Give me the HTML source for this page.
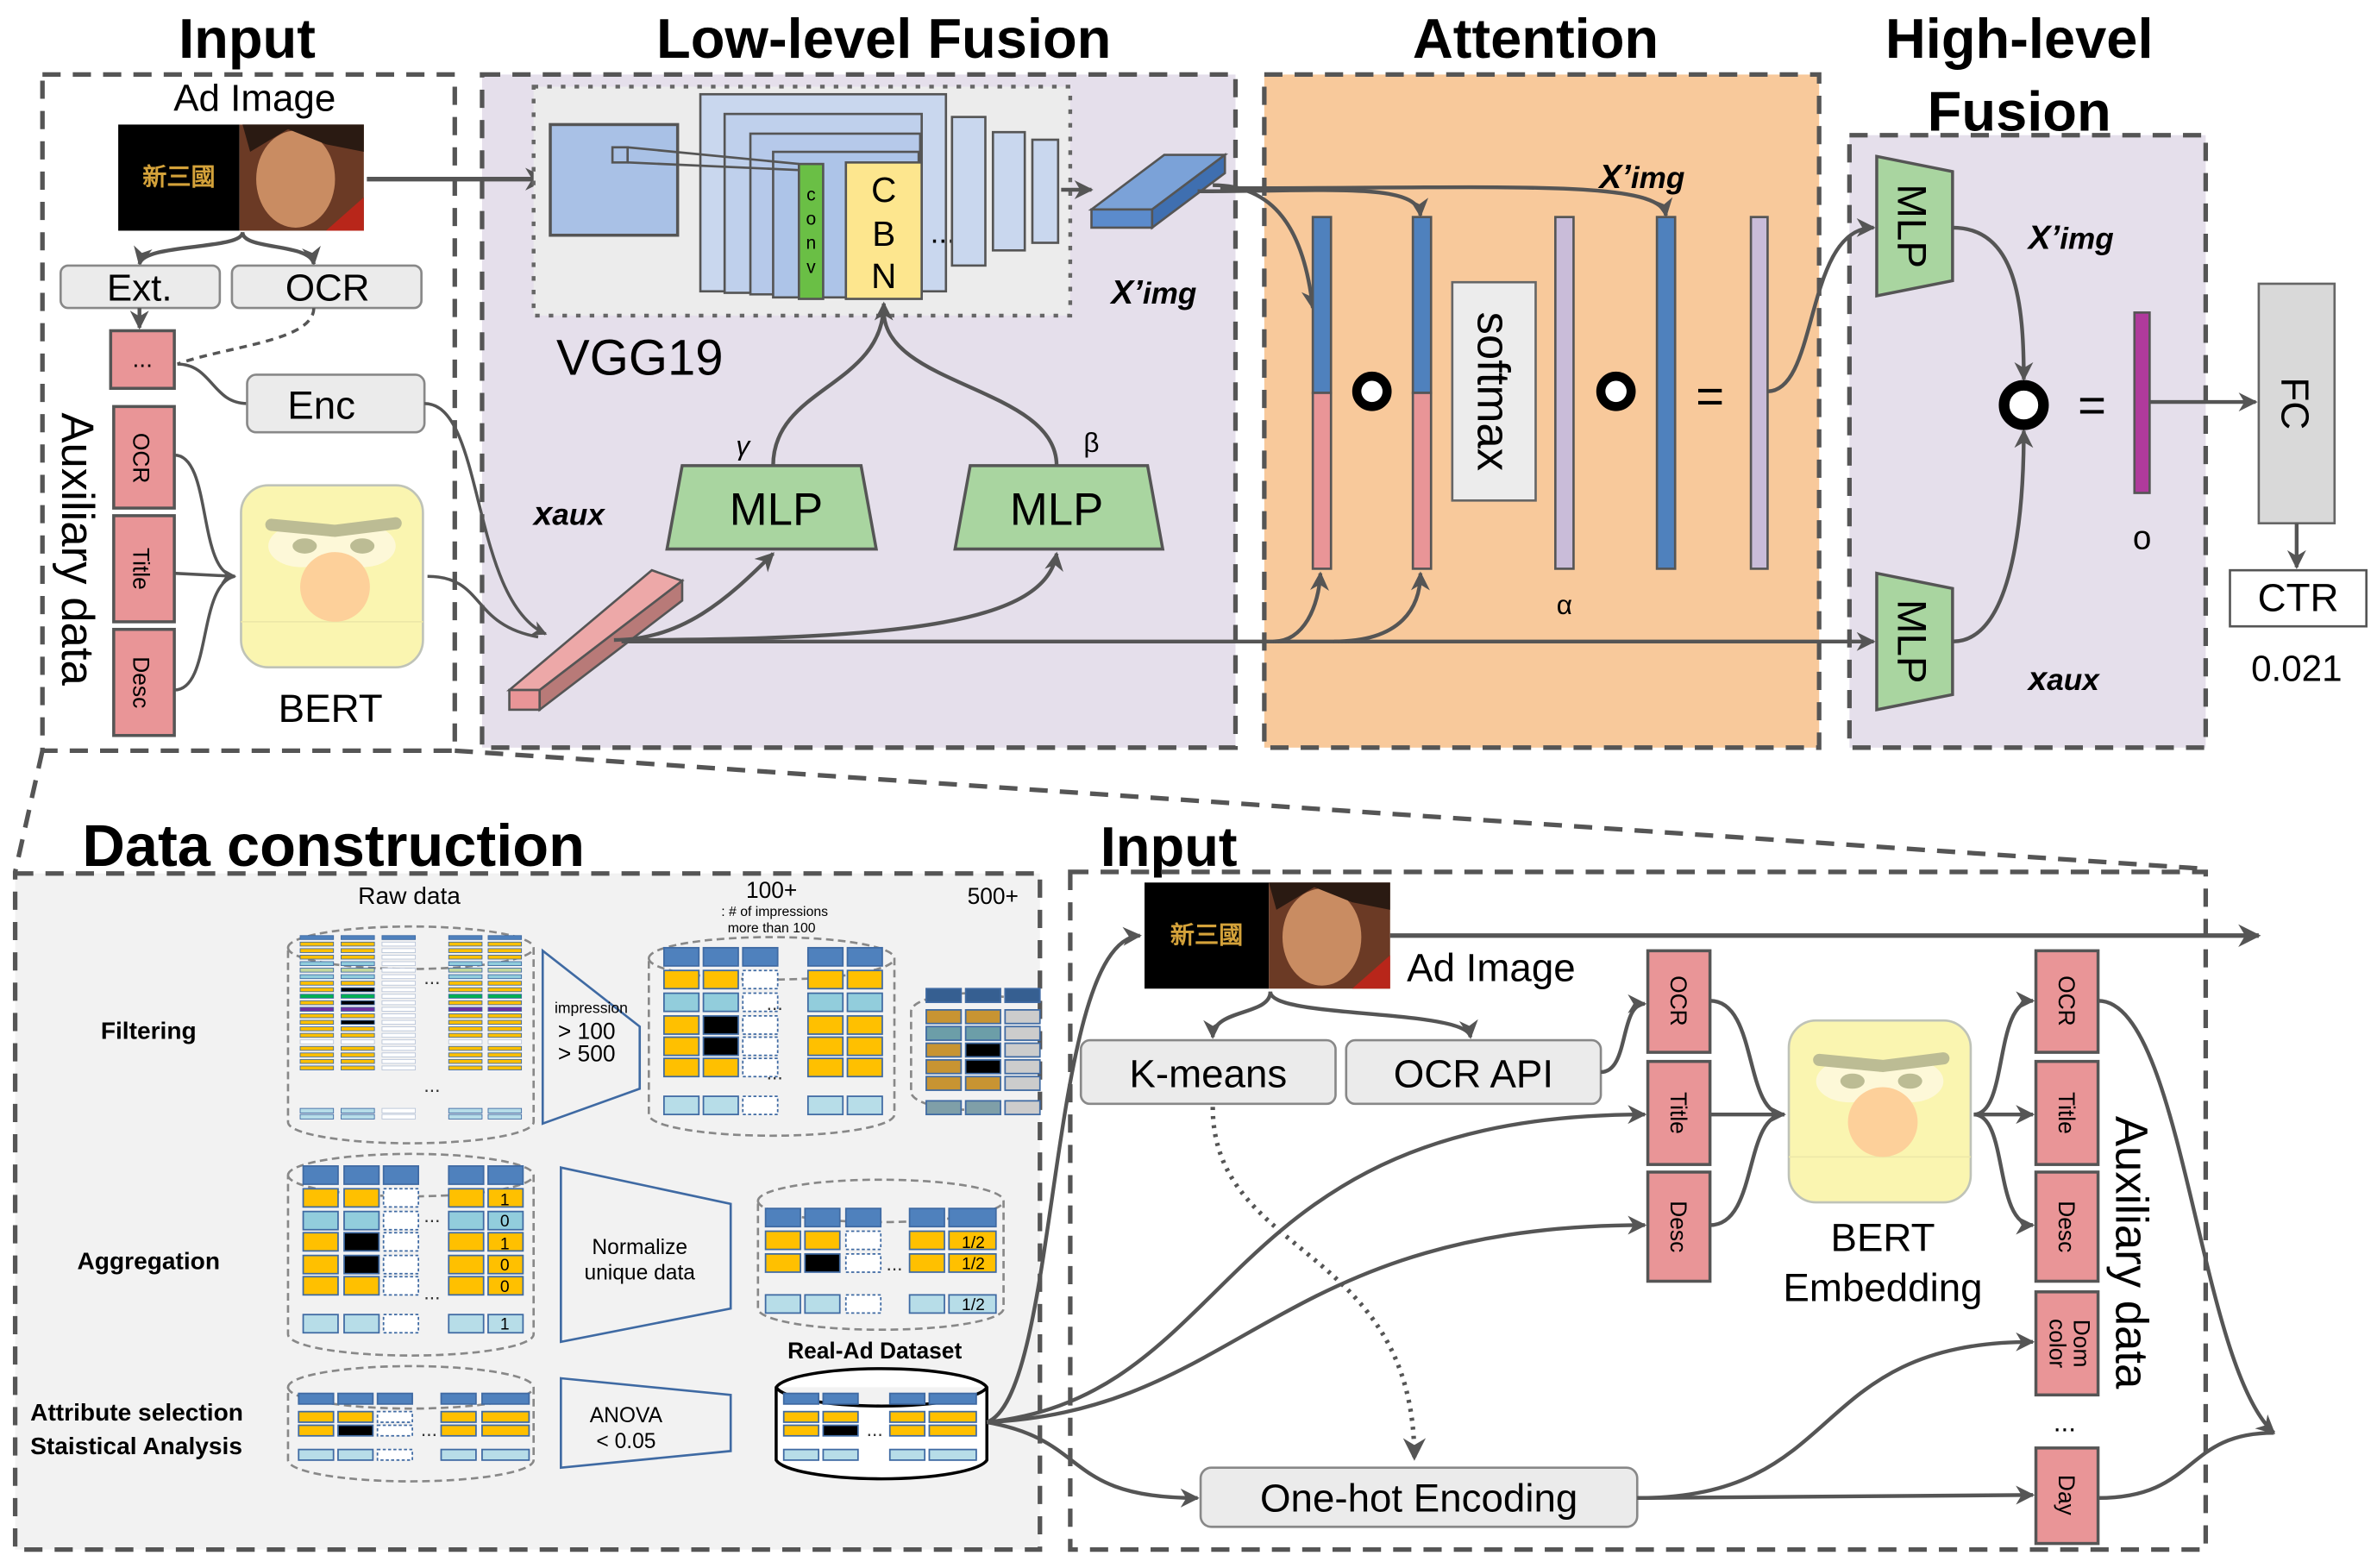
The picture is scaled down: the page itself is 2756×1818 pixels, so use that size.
<!DOCTYPE html>
<html><head><meta charset="utf-8">
<style>
html,body{margin:0;padding:0;background:#fff;}
svg{display:block;}
text{font-family:"Liberation Sans",Arial,sans-serif;}
</style></head>
<body>
<svg id="s" width="2756" height="1818" viewBox="0 0 1568 1034" xmlns="http://www.w3.org/2000/svg">
<defs>
<marker id="a" viewBox="0 0 10 10" refX="9" refY="5" markerWidth="5" markerHeight="5" orient="auto-start-reverse"><path d="M0,0 L10,5 L0,10 L3,5 z" fill="#555"/></marker>
<g id="face">
<rect x="0" y="0" width="120" height="120" rx="18" fill="#faf5b0" stroke="#bfc3b8" stroke-width="1.5"/>
<line x1="0" y1="90" x2="120" y2="90" stroke="#ede8a8" stroke-width="1"/>
<ellipse cx="40" cy="40" rx="22" ry="14" fill="#fdf8d8"/>
<ellipse cx="80" cy="40" rx="22" ry="14" fill="#fdf8d8"/>
<ellipse cx="42" cy="40" rx="8" ry="5" fill="#bcbc94"/>
<ellipse cx="80" cy="40" rx="8" ry="5" fill="#bcbc94"/>
<path d="M20,26 L62,30 L102,25" stroke="#bcbc94" stroke-width="8" stroke-linecap="round" fill="none"/>
<circle cx="62" cy="67" r="23" fill="#fdd09a"/>
</g>
</defs>

<!-- Titles -->
<g font-weight="bold" font-size="37" text-anchor="middle" fill="#000">
<text x="163" y="38">Input</text>
<text x="583" y="38">Low-level Fusion</text>
<text x="1013" y="38">Attention</text>
<text x="1332" y="38">High-level</text>
<text x="1332" y="86">Fusion</text>
<text x="220" y="571" font-size="39">Data construction</text>
<text x="771" y="571">Input</text>
</g>

<rect x="318" y="49" width="497" height="444" fill="#e5dfeb" stroke="#555" stroke-width="3" stroke-dasharray="12,8"/>
<rect x="834" y="49" width="366" height="444" fill="#f8c99b" stroke="#555" stroke-width="3" stroke-dasharray="12,8"/>
<rect x="1220" y="89" width="235" height="404" fill="#e5dfeb" stroke="#555" stroke-width="3" stroke-dasharray="12,8"/>
<rect x="28" y="49" width="272" height="446" fill="none" stroke="#555" stroke-width="3" stroke-dasharray="12,8"/>
<line x1="28" y1="495" x2="10" y2="575" stroke="#555" stroke-width="3" stroke-dasharray="12,8"/>
<line x1="300" y1="495" x2="1455" y2="573" stroke="#555" stroke-width="3" stroke-dasharray="12,8"/>
<rect x="10" y="576" width="676" height="446" fill="#f2f2f2" stroke="#555" stroke-width="3" stroke-dasharray="12,8"/>
<rect x="706" y="575" width="749" height="447" fill="none" stroke="#555" stroke-width="3" stroke-dasharray="12,8"/>

<!-- ===== Input top ===== -->
<text x="168" y="73" font-size="25" text-anchor="middle">Ad Image</text>
<rect x="78" y="82" width="80" height="70" fill="#000"/>
<text x="118" y="122" font-size="16" fill="#d4a23a" text-anchor="middle" font-weight="bold">新三國</text>
<rect x="158" y="82" width="82" height="70" fill="#6b3a25"/>
<ellipse cx="195" cy="118" rx="26" ry="32" fill="#c98c62"/>
<path d="M160,82 L240,82 L240,100 L215,95 L190,85 L165,100z" fill="#2a1a12"/>
<path d="M215,152 L240,130 L240,152z" fill="#b8261a"/>
<path d="M242,118 L360,118" stroke="#555" stroke-width="3" fill="none" marker-end="url(#a)"/>
<path d="M160,153 C160,165 95,160 92,174" stroke="#555" stroke-width="2.5" fill="none" marker-end="url(#a)"/>
<path d="M160,153 C160,165 205,160 207,174" stroke="#555" stroke-width="2.5" fill="none" marker-end="url(#a)"/>
<rect x="40" y="175" width="105" height="28" rx="5" fill="#ebebeb" stroke="#888" stroke-width="1.5"/>
<text x="92" y="198" font-size="25" text-anchor="middle">Ext.</text>
<rect x="153" y="175" width="125" height="28" rx="5" fill="#ebebeb" stroke="#888" stroke-width="1.5"/>
<text x="216" y="198" font-size="25" text-anchor="middle">OCR</text>
<path d="M92,203 L92,216" stroke="#555" stroke-width="2.5" marker-end="url(#a)"/>
<path d="M207,203 C207,225 150,228 117,240" stroke="#555" stroke-width="2" fill="none" stroke-dasharray="5,4"/>
<rect x="73" y="218" width="42" height="38" fill="#e99597" stroke="#555" stroke-width="2"/>
<text x="94" y="242" font-size="16" text-anchor="middle">...</text>
<path d="M117,240 C140,240 140,266 163,266" stroke="#555" stroke-width="2" fill="none"/>
<rect x="163" y="247" width="117" height="38" rx="6" fill="#ebebeb" stroke="#888" stroke-width="1.5"/>
<text x="212" y="276" font-size="26" text-anchor="middle">Enc</text>
<rect x="75" y="268" width="40" height="67" fill="#e99597" stroke="#555" stroke-width="2"/>
<rect x="75" y="340" width="40" height="70" fill="#e99597" stroke="#555" stroke-width="2"/>
<rect x="75" y="415" width="40" height="70" fill="#e99597" stroke="#555" stroke-width="2"/>
<g font-size="15">
<text transform="translate(88,302) rotate(90)" text-anchor="middle">OCR</text>
<text transform="translate(88,375) rotate(90)" text-anchor="middle">Title</text>
<text transform="translate(88,450) rotate(90)" text-anchor="middle">Desc</text>
</g>
<text transform="translate(41,362) rotate(90)" font-size="30" text-anchor="middle">Auxiliary data</text>
<path d="M115,300 C140,300 130,378 155,380" stroke="#555" stroke-width="2" fill="none"/>
<path d="M115,378 L155,380" stroke="#555" stroke-width="2" fill="none" marker-end="url(#a)"/>
<path d="M115,455 C140,455 130,385 155,380" stroke="#555" stroke-width="2" fill="none"/>
<use href="#face" x="159" y="320"/>
<text x="218" y="476" font-size="26" text-anchor="middle">BERT</text>

<!-- ===== Low-level ===== -->
<rect x="352" y="57" width="354" height="151" fill="#ececec" stroke="#666" stroke-width="2.5" stroke-dasharray="3,6"/>
<text x="367" y="247" font-size="33">VGG19</text>
<rect x="363" y="82" width="84" height="73" fill="#a9c1e6" stroke="#555" stroke-width="2"/>
<rect x="462" y="62" width="162" height="130" fill="#c9d7ee" stroke="#555" stroke-width="1.5"/>
<rect x="478" y="75" width="130" height="118" fill="#bfd0ec" stroke="#555" stroke-width="1.5"/>
<rect x="495" y="88" width="112" height="106" fill="#b6c9ea" stroke="#555" stroke-width="1.5"/>
<rect x="510" y="100" width="96" height="96" fill="#adc4e8" stroke="#555" stroke-width="1.5"/>
<rect x="404" y="97" width="10" height="10" fill="none" stroke="#555" stroke-width="1.5"/>
<line x1="414" y1="97" x2="527" y2="108" stroke="#555" stroke-width="1.5"/>
<line x1="414" y1="107" x2="527" y2="112" stroke="#555" stroke-width="1.5"/>
<rect x="527" y="108" width="16" height="89" fill="#6abf45" stroke="#555" stroke-width="1.5"/>
<g font-size="12" text-anchor="middle"><text x="535" y="132">c</text><text x="535" y="148">o</text><text x="535" y="164">n</text><text x="535" y="180">v</text></g>
<rect x="558" y="107" width="50" height="90" fill="#fde68e" stroke="#555" stroke-width="1.5"/>
<g font-size="23" text-anchor="middle"><text x="583" y="133">C</text><text x="583" y="162">B</text><text x="583" y="190">N</text></g>
<text x="622" y="160" font-size="20" text-anchor="middle">...</text>
<rect x="628" y="77" width="22" height="98" fill="#c9d7ee" stroke="#555" stroke-width="1.5"/>
<rect x="655" y="87" width="21" height="78" fill="#c9d7ee" stroke="#555" stroke-width="1.5"/>
<rect x="681" y="92" width="17" height="68" fill="#c9d7ee" stroke="#555" stroke-width="1.5"/>
<path d="M700,125 L720,125" stroke="#555" stroke-width="2.5" marker-end="url(#a)"/>
<polygon points="720,138 760,138 808,102 768,102" fill="#7ba2d8" stroke="#555" stroke-width="1.5"/>
<rect x="720" y="138" width="40" height="12" fill="#5b8bcc" stroke="#555" stroke-width="1.5"/>
<polygon points="760,138 760,150 808,114 808,102" fill="#3f6fb0" stroke="#555" stroke-width="1.5"/>
<text x="733" y="200" font-size="22" font-weight="bold" font-style="italic">X’<tspan font-size="20">img</tspan></text>
<polygon points="450,307 568,307 578,362 440,362" fill="#a9d5a0" stroke="#555" stroke-width="2"/>
<text x="512" y="346" font-size="30" text-anchor="middle">MLP</text>
<polygon points="640,307 757,307 767,362 630,362" fill="#a9d5a0" stroke="#555" stroke-width="2"/>
<text x="697" y="346" font-size="30" text-anchor="middle">MLP</text>
<text x="490" y="300" font-size="18" text-anchor="middle" font-style="italic">γ</text>
<text x="720" y="298" font-size="18" text-anchor="middle">β</text>
<path d="M510,307 C510,255 583,255 583,200" stroke="#555" stroke-width="2.5" fill="none" marker-end="url(#a)"/>
<path d="M697,307 C697,255 583,255 583,205" stroke="#555" stroke-width="2.5" fill="none"/>
<text x="352" y="346" font-size="22" font-weight="bold" font-style="italic">x<tspan font-size="20">aux</tspan></text>
<path d="M280,266 C320,266 310,395 360,418" stroke="#555" stroke-width="2" fill="none" marker-end="url(#a)"/>
<path d="M282,380 C320,380 310,412 355,420" stroke="#555" stroke-width="2" fill="none"/>
<polygon points="336,455 356,455 450,383 430,376" fill="#eda8a8" stroke="#555" stroke-width="1.5"/>
<rect x="336" y="455" width="20" height="13" fill="#e99597" stroke="#555" stroke-width="1.5"/>
<polygon points="356,455 356,468 450,396 450,383" fill="#b87a78" stroke="#555" stroke-width="1.5"/>
<path d="M405,422 C450,422 480,395 510,365" stroke="#555" stroke-width="2.5" fill="none" marker-end="url(#a)"/>
<path d="M410,422 C600,422 690,410 697,365" stroke="#555" stroke-width="2.5" fill="none" marker-end="url(#a)"/>
<path d="M410,423 L1236,423" stroke="#555" stroke-width="2.5" fill="none" marker-end="url(#a)"/>
<path d="M840,423 C860,423 870,400 871,378" stroke="#555" stroke-width="2.5" fill="none" marker-end="url(#a)"/>
<path d="M880,423 C925,423 937,400 937,378" stroke="#555" stroke-width="2.5" fill="none" marker-end="url(#a)"/>

<!-- ===== Attention ===== -->
<path d="M800,122 C840,122 860,150 866,203" stroke="#555" stroke-width="2.5" fill="none" marker-end="url(#a)"/>
<path d="M790,126 C880,126 935,120 937,142" stroke="#555" stroke-width="2.5" fill="none" marker-end="url(#a)"/>
<path d="M805,124 C1000,124 1095,118 1099,142" stroke="#555" stroke-width="2.5" fill="none" marker-end="url(#a)"/>
<text x="1055" y="124" font-size="22" font-weight="bold" font-style="italic">X’<tspan font-size="20">img</tspan></text>
<rect x="866" y="143" width="12" height="116" fill="#4f81bd" stroke="#555" stroke-width="1.5"/>
<rect x="866" y="259" width="12" height="116" fill="#e99597" stroke="#555" stroke-width="1.5"/>
<rect x="932" y="143" width="12" height="116" fill="#4f81bd" stroke="#555" stroke-width="1.5"/>
<rect x="932" y="259" width="12" height="116" fill="#e99597" stroke="#555" stroke-width="1.5"/>
<circle cx="905" cy="258" r="10" fill="#fff" stroke="#000" stroke-width="6"/>
<rect x="958" y="186" width="55" height="144" fill="#ececec" stroke="#666" stroke-width="1.5"/>
<text transform="translate(975,258) rotate(90)" font-size="30" text-anchor="middle">softmax</text>
<rect x="1026" y="143" width="12" height="232" fill="#c9bcd9" stroke="#555" stroke-width="1.5"/>
<text x="1032" y="405" font-size="18" text-anchor="middle">α</text>
<circle cx="1066" cy="258" r="10" fill="#fff" stroke="#000" stroke-width="6"/>
<text x="1128" y="272" font-size="32" text-anchor="middle">=</text>
<rect x="1093" y="143" width="12" height="232" fill="#4f81bd" stroke="#555" stroke-width="1.5"/>
<rect x="1155" y="143" width="11" height="232" fill="#c9bcd9" stroke="#555" stroke-width="1.5"/>
<path d="M1166,258 C1200,258 1190,150 1236,150" stroke="#555" stroke-width="2.5" fill="none" marker-end="url(#a)"/>

<!-- ===== High-level ===== -->
<polygon points="1238,103 1288,113 1288,185 1238,195" fill="#a9d5a0" stroke="#555" stroke-width="2"/>
<text transform="translate(1252,149) rotate(90)" font-size="27" text-anchor="middle">MLP</text>
<polygon points="1238,378 1288,388 1288,458 1238,468" fill="#a9d5a0" stroke="#555" stroke-width="2"/>
<text transform="translate(1252,423) rotate(90)" font-size="27" text-anchor="middle">MLP</text>
<text x="1338" y="164" font-size="22" font-weight="bold" font-style="italic">X’<tspan font-size="20">img</tspan></text>
<text x="1338" y="455" font-size="22" font-weight="bold" font-style="italic">x<tspan font-size="20">aux</tspan></text>
<path d="M1288,150 C1330,150 1335,200 1335,250" stroke="#555" stroke-width="2.5" fill="none" marker-end="url(#a)"/>
<path d="M1288,423 C1330,423 1335,330 1335,284" stroke="#555" stroke-width="2.5" fill="none" marker-end="url(#a)"/>
<circle cx="1335" cy="267" r="13" fill="#fff" stroke="#000" stroke-width="7"/>
<text x="1380" y="278" font-size="32" text-anchor="middle">=</text>
<rect x="1408" y="206" width="10" height="119" fill="#b03a9c" stroke="#555" stroke-width="1.5"/>
<text x="1413" y="362" font-size="22" text-anchor="middle">o</text>
<path d="M1418,265 L1488,265" stroke="#555" stroke-width="2.5" marker-end="url(#a)"/>
<rect x="1490" y="187" width="50" height="158" fill="#d9d9d9" stroke="#666" stroke-width="1.5"/>
<text transform="translate(1505,266) rotate(90)" font-size="26" text-anchor="middle">FC</text>
<path d="M1515,345 L1515,374" stroke="#555" stroke-width="2.5" marker-end="url(#a)"/>
<rect x="1471" y="376" width="90" height="37" fill="#fff" stroke="#555" stroke-width="1.5"/>
<text x="1516" y="403" font-size="26" text-anchor="middle">CTR</text>
<text x="1515" y="449" font-size="24" text-anchor="middle">0.021</text>

<!-- ===== Data construction ===== -->
<g font-weight="bold" font-size="16">
<text x="98" y="685" text-anchor="middle">Filtering</text>
<text x="98" y="837" text-anchor="middle">Aggregation</text>
<text x="20" y="937">Attribute selection</text>
<text x="20" y="959">Staistical Analysis</text>
</g>
<text x="270" y="596" font-size="16" text-anchor="middle">Raw data</text>
<text x="509" y="592" font-size="15" text-anchor="middle">100+</text>
<text x="511" y="604" font-size="9" text-anchor="middle">: # of impressions</text>
<text x="509" y="615" font-size="9" text-anchor="middle">more than 100</text>
<text x="655" y="596" font-size="15" text-anchor="middle">500+</text>
<g fill="none" stroke="#888" stroke-width="1.5" stroke-dasharray="5,3">
<path d="M190,625 A81,14 0 0 1 352,625 L352,740 A81,14 0 0 1 190,740 Z M190,625 A81,14 0 0 0 352,625"/>
<path d="M428,632 A81,14 0 0 1 590,632 L590,735 A81,14 0 0 1 428,735 Z M428,632 A81,14 0 0 0 590,632"/>
<path d="M686,660 L640,655 A40,12 0 0 0 601,667 L601,720 A40,12 0 0 0 640,732 L686,732"/>
<path d="M190,775 A81,14 0 0 1 352,775 L352,880 A81,14 0 0 1 190,880 Z M190,775 A81,14 0 0 0 352,775"/>
<path d="M500,792 A81,14 0 0 1 662,792 L662,863 A81,14 0 0 1 500,863 Z M500,792 A81,14 0 0 0 662,792"/>
<path d="M190,915 A81,14 0 0 1 352,915 L352,963 A81,14 0 0 1 190,963 Z M190,915 A81,14 0 0 0 352,915"/>
</g>
<path d="M512,915 A70,14 0 0 1 651,915 L651,963 A70,14 0 0 1 512,963 Z M512,915 A70,14 0 0 0 651,915" fill="#fff" stroke="#000" stroke-width="2"/>
<text x="577" y="896" font-size="15" font-weight="bold" text-anchor="middle">Real-Ad Dataset</text>
<g fill="none" stroke="#3f6aa3" stroke-width="1.5">
<polygon points="358,627 422,677 422,718 358,741"/>
<polygon points="370,770 482,794 482,863 370,885"/>
<polygon points="370,909 482,920 482,957 370,968"/>
</g>
<text x="390" y="668" font-size="10" text-anchor="middle">impression</text>
<text x="368" y="685" font-size="15">&gt; 100</text>
<text x="368" y="700" font-size="15">&gt; 500</text>
<text x="422" y="827" font-size="14" text-anchor="middle">Normalize</text>
<text x="422" y="844" font-size="14" text-anchor="middle">unique data</text>
<text x="413" y="938" font-size="14" text-anchor="middle">ANOVA</text>
<text x="413" y="955" font-size="14" text-anchor="middle">&lt; 0.05</text>
<g id="grids"></g>
<g font-size="13" text-anchor="middle" fill="#333">
<text x="285" y="649">...</text><text x="285" y="720">...</text>
<text x="511" y="666">...</text><text x="511" y="712">...</text>
<text x="285" y="806">...</text><text x="285" y="857">...</text>
<text x="590" y="838">...</text>
<text x="283" y="947">...</text><text x="577" y="947">...</text>
</g>
<g font-size="11" text-anchor="middle">
<text x="333" y="795">1</text><text x="333" y="809">0</text><text x="333" y="824">1</text><text x="333" y="838">0</text><text x="333" y="852">0</text><text x="333" y="877">1</text>
<text x="642" y="823">1/2</text><text x="642" y="837">1/2</text><text x="642" y="864">1/2</text>
</g>

<!-- ===== Input bottom ===== -->
<rect x="755" y="582" width="82" height="70" fill="#000"/>
<text x="796" y="622" font-size="16" fill="#d4a23a" text-anchor="middle" font-weight="bold">新三國</text>
<rect x="837" y="582" width="80" height="70" fill="#6b3a25"/>
<ellipse cx="872" cy="618" rx="26" ry="32" fill="#c98c62"/>
<path d="M837,582 L917,582 L917,600 L892,595 L867,585 L842,600z" fill="#2a1a12"/>
<path d="M892,652 L917,630 L917,652z" fill="#b8261a"/>
<text x="928" y="647" font-size="26">Ad Image</text>
<path d="M917,617 L1490,617" stroke="#555" stroke-width="3" marker-end="url(#a)"/>
<path d="M838,654 C838,670 800,665 800,684" stroke="#555" stroke-width="2.5" fill="none" marker-end="url(#a)"/>
<path d="M838,654 C838,672 968,665 970,684" stroke="#555" stroke-width="2.5" fill="none" marker-end="url(#a)"/>
<rect x="713" y="686" width="168" height="42" rx="6" fill="#ebebeb" stroke="#888" stroke-width="1.5"/>
<text x="797" y="717" font-size="26" text-anchor="middle">K-means</text>
<rect x="888" y="686" width="168" height="42" rx="6" fill="#ebebeb" stroke="#888" stroke-width="1.5"/>
<text x="972" y="717" font-size="26" text-anchor="middle">OCR API</text>
<path d="M1056,707 C1075,707 1068,662 1085,662" stroke="#555" stroke-width="2.5" fill="none" marker-end="url(#a)"/>
<path d="M800,730 C800,830 933,820 933,962" stroke="#555" stroke-width="3" fill="none" stroke-dasharray="2,4" marker-end="url(#a)"/>
<rect x="1087" y="627" width="41" height="67" fill="#e99597" stroke="#555" stroke-width="2"/>
<rect x="1087" y="700" width="41" height="68" fill="#e99597" stroke="#555" stroke-width="2"/>
<rect x="1087" y="773" width="41" height="72" fill="#e99597" stroke="#555" stroke-width="2"/>
<rect x="1343" y="627" width="41" height="67" fill="#e99597" stroke="#555" stroke-width="2"/>
<rect x="1343" y="700" width="41" height="68" fill="#e99597" stroke="#555" stroke-width="2"/>
<rect x="1343" y="773" width="41" height="72" fill="#e99597" stroke="#555" stroke-width="2"/>
<rect x="1343" y="852" width="41" height="68" fill="#e99597" stroke="#555" stroke-width="2"/>
<rect x="1343" y="955" width="41" height="63" fill="#e99597" stroke="#555" stroke-width="2"/>
<g font-size="15" text-anchor="middle">
<text transform="translate(1102,660) rotate(90)">OCR</text>
<text transform="translate(1102,734) rotate(90)">Title</text>
<text transform="translate(1102,809) rotate(90)">Desc</text>
<text transform="translate(1358,660) rotate(90)">OCR</text>
<text transform="translate(1358,734) rotate(90)">Title</text>
<text transform="translate(1358,809) rotate(90)">Desc</text>
<text transform="translate(1368,886) rotate(90)">Dom</text>
<text transform="translate(1352,886) rotate(90)">color</text>
<text transform="translate(1358,986) rotate(90)">Day</text>
</g>
<text x="1362" y="944" font-size="18" text-anchor="middle">...</text>
<text transform="translate(1396,826) rotate(90)" font-size="30" text-anchor="middle">Auxiliary data</text>
<path d="M1128,660 C1160,660 1150,735 1177,735" stroke="#555" stroke-width="2.5" fill="none"/>
<path d="M1128,735 L1177,735" stroke="#555" stroke-width="2.5" marker-end="url(#a)"/>
<path d="M1128,808 C1160,808 1150,735 1177,735" stroke="#555" stroke-width="2.5" fill="none"/>
<use href="#face" x="1180" y="673"/>
<text x="1242" y="825" font-size="26" text-anchor="middle">BERT</text>
<text x="1242" y="858" font-size="26" text-anchor="middle">Embedding</text>
<path d="M1302,735 C1325,735 1315,660 1341,660" stroke="#555" stroke-width="2.5" fill="none" marker-end="url(#a)"/>
<path d="M1302,735 L1341,735" stroke="#555" stroke-width="2.5" marker-end="url(#a)"/>
<path d="M1302,735 C1325,735 1315,808 1341,808" stroke="#555" stroke-width="2.5" fill="none" marker-end="url(#a)"/>
<path d="M651,938 C700,920 690,620 752,617" stroke="#555" stroke-width="2.5" fill="none" marker-end="url(#a)"/>
<path d="M651,938 C820,920 800,735 1085,735" stroke="#555" stroke-width="2.5" fill="none" marker-end="url(#a)"/>
<path d="M651,938 C820,930 840,808 1085,808" stroke="#555" stroke-width="2.5" fill="none" marker-end="url(#a)"/>
<path d="M651,938 C720,950 700,988 790,988" stroke="#555" stroke-width="2.5" fill="none" marker-end="url(#a)"/>
<rect x="792" y="968" width="288" height="39" rx="7" fill="#ebebeb" stroke="#888" stroke-width="1.5"/>
<text x="936" y="997" font-size="26" text-anchor="middle">One-hot Encoding</text>
<path d="M1080,988 L1341,986" stroke="#555" stroke-width="2.5" marker-end="url(#a)"/>
<path d="M1080,988 C1220,988 1190,885 1341,885" stroke="#555" stroke-width="2.5" fill="none" marker-end="url(#a)"/>
<path d="M1384,660 C1440,660 1450,900 1500,945" stroke="#555" stroke-width="2.5" fill="none" marker-end="url(#a)"/>
<path d="M1384,988 C1450,988 1440,945 1500,945" stroke="#555" stroke-width="2.5" fill="none"/>
</svg>
<script>
(function(){
var g=document.getElementById('grids'),NS='http://www.w3.org/2000/svg';
function r(x,y,w,h,f,dash,thin){var e=document.createElementNS(NS,'rect');e.setAttribute('x',x);e.setAttribute('y',y);e.setAttribute('width',w);e.setAttribute('height',h);e.setAttribute('fill',f);e.setAttribute('stroke',thin&&f=='#fff'?'#b8c4d8':'#3f6aa3');e.setAttribute('stroke-width',thin?0.5:1);if(dash)e.setAttribute('stroke-dasharray','2,1.5');g.appendChild(e);}
var B='#4f81bd',Y='#ffc000',L='#92cddc',P='#b7dde8',K='#000',W='#fff';
var cols=[198,225,252,296,322],rowc=[B,Y,Y,Y,L,'#c4d79b',L,Y,K,'#00b050',K,'#7030a0',Y,K,Y,Y,W,Y,Y,Y,Y];
for(var i=0;i<rowc.length;i++){var y=617+i*4.3;for(var j=0;j<5;j++){var c=rowc[i];if(j==2&&c!=B)c=W;if(c==K&&j!=1)c=Y;if(c=='#00b050'&&j==2)c=W;r(cols[j],y,22,2.6,c,false,true);}}
[737,733].forEach(function(y){for(var j=0;j<5;j++)r(cols[j],y-2,22,3,j==2?W:P,false,true);});
function grid(cols,ws,rows,h,spec){for(var i=0;i<rows.length;i++)for(var j=0;j<cols.length;j++){var c=spec[i][j];r(cols[j],rows[i],ws[j],h,c,c==W);}}
var s100=[[B,B,B,B,B],[Y,Y,W,Y,Y],[L,L,W,L,L],[Y,K,W,Y,Y],[Y,K,W,Y,Y],[Y,Y,W,Y,Y],[P,P,W,P,P]];
grid([438,464,490,533,559],[23,23,23,23,23],[625,640,655,670,684,698,723],12,s100);
grid([611,637,663],[23,23,23],[652,666,677,688,699,710,726],9,[['#365f91','#365f91','#365f91'],['#c89432','#c89432','#ccc'],['#6c9ea8','#6c9ea8','#ccc'],['#c89432',K,'#ccc'],['#c89432',K,'#ccc'],['#c89432','#c89432','#ccc'],['#7f9fa8','#7f9fa8','#ccc']]);
grid([200,227,253,296,322],[23,23,23,23,23],[769,784,799,813,828,842,867],12,[[B,B,B,B,B],[Y,Y,W,Y,Y],[L,L,W,L,L],[Y,K,W,Y,Y],[Y,K,W,Y,Y],[Y,Y,W,Y,Y],[P,P,W,P,P]]);
grid([505,531,558,600,626],[23,23,23,23,31],[797,812,827,854],12,[[B,B,B,B,B],[Y,Y,W,Y,Y],[Y,K,W,Y,Y],[P,P,W,P,P]]);
grid([197,223,249,291,318],[23,23,23,23,31],[919,931,940,956],7,[[B,B,B,B,B],[Y,Y,W,Y,Y],[Y,K,W,Y,Y],[P,P,W,P,P]]);
grid([517,543,587,613],[23,23,23,31],[919,931,940,956],7,[[B,B,B,B],[Y,Y,Y,Y],[Y,K,Y,Y],[P,P,P,P]]);
})();
</script>
</body></html>
